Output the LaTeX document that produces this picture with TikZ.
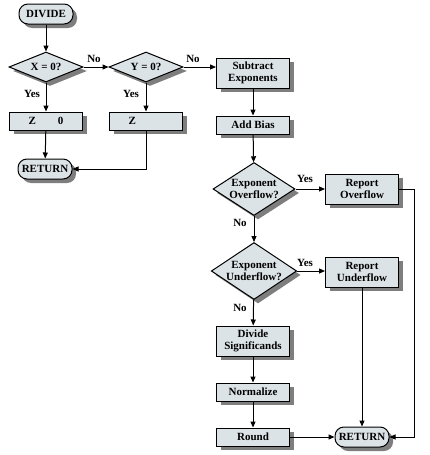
\documentclass[tikz,border=0pt]{standalone}
\usepackage{fontspec}
\setmainfont{Liberation Serif}
\usepackage{tikz}
\usetikzlibrary{arrows.meta,shapes,shadows,positioning,calc}
\definecolor{boxgray}{HTML}{DCE3E6}
\definecolor{shadegray}{HTML}{7E7E7E}
\tikzstyle{shade}=[drop shadow={shadow xshift=4pt, shadow yshift=-4pt, fill=shadegray, opacity=1}]
\tikzstyle{proc}=[rectangle, draw=black, fill=boxgray, line width=1pt, minimum width=73pt, minimum height=18pt, inner sep=1pt, align=center, shade, font=\bfseries\fontsize{11}{12.5}\selectfont]
\tikzstyle{term}=[proc, rounded corners=9pt, minimum width=54pt, minimum height=20pt]
\tikzstyle{dec}=[diamond, draw=black, fill=boxgray, line width=1pt, inner sep=0pt, aspect=1.5, align=center, shade, font=\bfseries\fontsize{11}{12.5}\selectfont]
\tikzstyle{lbl}=[inner sep=0pt, font=\bfseries\fontsize{11}{12.5}\selectfont]

\begin{document}
\begin{tikzpicture}[x=1pt, y=-1pt, >={Triangle[length=6pt,width=5pt]}, line width=1pt]
				\useasboundingbox (0,0) rectangle (429,455);
				\node[term] (DIV)at(46,14){DIVIDE};
				\node[dec, aspect=2.4, minimum width=74pt, minimum height=30pt] (X)at(46,67){X = 0?};
				\node[dec, aspect=2.4, minimum width=74pt, minimum height=30pt] (Y)at(146,67){Y = 0?};
				\node[proc] (Z0)at(46,121){Z\hspace{22pt}0};
				\node[proc] (Z)at(146,121){Z\hspace{22pt}\phantom{0}};
				\node[term] (R1)at(45,169){RETURN};
				\node[proc, minimum height=30pt] (SE)at(253,73){Subtract\\Exponents};
				\node[proc] (AB)at(253,125){Add Bias};
				\node[dec, minimum width=82pt, minimum height=53pt] (EO)at(254,189){Exponent\\Overflow?};
				\node[proc, minimum height=30pt] (RO)at(362,189){Report\\Overflow};
				\node[dec, minimum width=82pt, minimum height=54pt] (EU)at(254,271){Exponent\\Underflow?};
				\node[proc, minimum height=30pt] (RU)at(362,272){Report\\Underflow};
				\node[proc, minimum height=30pt] (DS)at(253,341){Divide\\Significands};
				\node[proc] (N)at(253,392){Normalize};
				\node[proc] (RD)at(253,437){Round};
				\node[term] (R2)at(362,437){RETURN};
				
				\node[lbl] (noX)at(94,59){No};
				\node[lbl] (noY)at(193,59){No};
				\node[lbl] (yesX)at(32,94){Yes};
				\node[lbl] (yesY)at(131,94){Yes};
				\node[lbl] (yesO)at(305,179){Yes};
				\node[lbl] (noO)at(240,223){No};
				\node[lbl] (yesU)at(305,263){Yes};
				\node[lbl] (noU)at(240,308){No};
				
				\draw[->](DIV)--(X);
				\draw[->](X)--(Y);
				\draw[->](Y.east)--(Y.east-|SE.west);
				\draw[->](X)--(Z0);
				\draw[->](Y)--(Z);
				\draw[->](Z0)--(R1);
				\draw[->](Z.south)|-(R1.east);
				\draw[->](SE)--(AB);
				\draw[->](AB)--(EO);
				\draw[->](EO)--(RO);
				\draw[->](EO)--(EU);
				\draw[->](EU.east)--(EU.east-|RU.west);
				\draw[->](EU)--(DS);
				\draw[->](DS)--(N);
				\draw[->](N)--(RD);
				\draw[->](RD)--(R2);
				\draw[->](RU)--(R2);
				\draw[->](RO.east)--++(15,0)|-(R2.east);
			\end{tikzpicture}
\end{document}
